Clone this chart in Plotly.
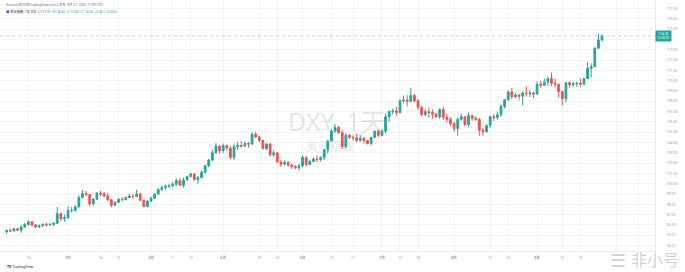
import pandas as pd
import plotly.graph_objects as go

# ---------------- data ----------------
holidays = ["2022-04-15", "2022-07-04"]
calendar = [d.strftime("%Y-%m-%d") for d in pd.bdate_range("2022-02-04", "2022-10-31")
            if d.strftime("%Y-%m-%d") not in holidays]
n_bars = 166
dates = calendar[:n_bars]

opens = [
    95.35,95.45,95.42,95.63,95.50,95.80,96.05,96.30,96.00,95.80,95.95,96.05,96.00,96.05,96.15,97.10,96.60,
    96.70,97.40,97.40,97.75,98.65,99.05,98.95,98.05,98.50,99.10,99.00,98.80,98.45,97.90,98.20,98.50,98.45,98.65,98.80,98.75,99.00,98.40,97.80,
    98.30,98.60,99.00,99.45,99.65,99.75,99.80,99.95,100.30,99.85,100.35,100.70,100.95,100.40,100.60,101.10,101.75,102.30,103.00,103.65,
    103.20,103.70,103.45,102.55,103.60,103.70,103.65,103.90,103.85,104.80,104.55,104.20,103.40,103.85,102.80,103.00,102.10,101.90,102.05,101.80,101.65,101.55,
    101.75,102.55,101.85,102.15,102.40,102.35,102.55,103.30,104.15,105.10,105.45,104.95,103.60,104.70,104.50,104.45,104.20,104.40,104.20,103.90,104.50,105.10,
    104.70,105.10,106.50,107.00,107.05,106.90,108.05,108.10,108.00,108.55,108.05,107.40,106.70,107.00,106.90,106.75,106.50,107.20,106.45,106.25,
    105.85,105.35,106.25,106.50,105.75,106.60,106.35,106.25,105.20,105.05,105.65,106.50,106.45,106.70,107.50,108.15,108.90,108.45,108.60,108.50,108.80,108.75,108.80,
    108.70,109.65,109.55,109.85,110.20,109.75,109.65,108.95,108.25,109.80,109.60,109.70,109.75,109.65,110.20,111.20,111.35,113.15,113.95,
]
highs = [
    95.55,95.65,95.70,95.70,96.00,96.20,96.45,96.40,96.10,96.05,96.15,96.20,96.20,96.30,97.75,97.20,97.00,
    97.80,97.75,97.90,98.90,99.40,99.30,99.00,98.60,99.15,99.30,99.20,99.10,98.50,98.30,98.55,98.70,98.80,99.00,98.95,99.40,99.10,98.45,98.40,
    98.75,99.05,99.55,99.80,99.90,100.00,100.20,100.50,100.55,100.60,100.80,101.05,101.00,100.75,101.30,101.85,102.40,103.30,103.95,103.70,
    103.90,103.80,103.65,103.90,104.05,104.15,104.10,104.05,105.00,105.05,104.65,104.30,103.95,103.95,103.30,103.05,102.30,102.25,102.20,101.95,101.80,101.90,
    102.75,102.65,102.35,102.55,102.75,102.65,103.40,104.25,105.30,105.80,105.60,105.20,104.90,104.80,104.70,104.85,104.75,104.55,104.25,104.55,105.15,105.25,
    105.30,106.80,107.10,107.30,107.45,108.20,108.55,108.60,109.30,108.70,108.20,107.55,107.30,107.40,107.20,106.90,107.30,107.45,106.75,106.45,
    106.00,106.40,106.80,106.55,106.90,106.70,106.55,106.35,105.40,105.75,106.60,106.75,107.00,107.70,108.20,109.05,109.30,108.80,108.70,108.95,109.45,109.05,108.90,
    109.95,110.00,110.20,110.35,110.80,110.20,109.70,109.00,109.85,109.90,109.90,109.90,110.20,110.25,111.80,111.70,113.25,114.55,114.45,
]
lows = [
    95.15,95.30,95.35,95.40,95.20,95.70,95.95,95.85,95.70,95.70,95.80,95.85,95.90,95.90,96.10,96.40,96.30,
    96.60,97.20,97.30,97.70,98.60,98.80,97.80,97.90,98.40,98.80,98.70,98.30,97.70,97.90,98.10,98.30,98.40,98.60,98.50,98.70,98.30,97.70,97.70,
    98.25,98.55,98.90,99.30,99.40,99.60,99.70,99.80,99.75,99.60,100.30,100.60,100.30,100.00,100.50,101.00,101.60,102.20,102.90,102.90,
    102.95,103.20,102.35,102.30,103.30,103.50,103.60,103.50,103.80,104.40,104.05,103.35,103.30,102.65,102.60,102.05,101.65,101.80,101.70,101.45,101.40,101.30,
    101.60,101.65,101.80,102.10,102.10,102.15,102.30,102.90,104.10,105.00,104.85,103.40,103.45,104.35,104.20,104.00,104.05,103.90,103.80,103.70,104.40,104.50,
    104.60,104.90,106.00,106.70,106.60,106.85,107.80,107.50,107.90,107.90,107.20,106.55,106.55,106.40,106.30,106.40,106.30,106.20,105.90,105.60,
    105.05,104.65,106.10,105.60,105.50,106.10,106.10,104.65,104.65,104.95,105.40,106.10,106.20,106.50,107.30,108.00,108.20,108.30,108.10,107.60,108.45,108.40,108.30,
    108.60,109.30,109.50,109.50,109.50,109.35,108.35,107.60,107.90,109.30,109.35,109.40,109.40,109.55,110.15,110.30,111.30,113.10,113.80,
]
closes = [
    95.45,95.42,95.63,95.50,95.80,96.05,96.30,96.00,95.80,95.95,96.05,96.00,96.05,96.15,97.10,96.60,96.70,
    97.40,97.40,97.75,98.65,99.05,98.95,98.05,98.50,99.10,99.00,98.80,98.45,97.90,98.20,98.50,98.45,98.65,98.80,98.75,99.00,98.40,97.80,98.30,
    98.60,99.00,99.45,99.65,99.75,99.80,99.95,100.30,99.85,100.35,100.70,100.95,100.40,100.60,101.10,101.75,102.30,103.00,103.65,103.20,
    103.70,103.45,102.55,103.60,103.70,103.65,103.90,103.85,104.80,104.55,104.20,103.40,103.85,102.80,103.00,102.10,101.90,102.05,101.80,101.65,101.55,101.75,
    102.55,101.85,102.15,102.40,102.35,102.55,103.30,104.15,105.10,105.45,104.95,103.60,104.70,104.50,104.45,104.20,104.40,104.20,103.90,104.50,105.10,104.70,
    105.10,106.50,107.00,107.05,106.90,108.05,108.10,108.00,108.55,108.05,107.40,106.70,107.00,106.90,106.75,106.50,107.20,106.45,106.25,105.85,
    105.35,106.25,106.50,105.75,106.60,106.35,106.25,105.20,105.05,105.65,106.50,106.45,106.70,107.50,108.15,108.90,108.45,108.60,108.50,108.80,108.75,108.80,108.70,
    109.65,109.55,109.85,110.20,109.75,109.65,108.95,108.25,109.80,109.60,109.70,109.75,109.65,110.20,111.20,111.35,113.15,113.95,114.35,
]

tick_dates = ["2022-02-14", "2022-03-01", "2022-03-14", "2022-03-21", "2022-04-01", "2022-04-11",
              "2022-04-19", "2022-05-02", "2022-05-16", "2022-05-23", "2022-06-01", "2022-06-13",
              "2022-06-21", "2022-07-01", "2022-07-11", "2022-07-18", "2022-08-01", "2022-08-15",
              "2022-08-22", "2022-09-01", "2022-09-12", "2022-09-19"]
tick_texts = ["14", "3月", "14", "21", "4月", "11", "19", "5月", "16", "23", "6月", "13",
              "21", "7月", "11", "18", "8月", "15", "22", "9月", "12", "19"]
future_grid_dates = ["2022-10-03", "2022-10-11"]   # gridlines under the watermark, labels hidden
price_ticks = list(range(94, 118))
hidden_price_labels = [114]                       # covered by the last-price box

# ---------------- figure ----------------
UP, DOWN = "#26a69a", "#ef5350"
LABEL = "#9a9da6"
W, H = 685, 272
PLOT_R = 655
PLOT_B = 251
X0_PX, PX_PER_BAR = 6.7, 3.608
Y_TOP, Y_BOT = 117.83, 93.47

xs = list(range(len(dates)))
fig = go.Figure(go.Candlestick(
    x=xs, open=opens, high=highs, low=lows, close=closes,
    increasing=dict(line=dict(color=UP, width=1), fillcolor=UP),
    decreasing=dict(line=dict(color=DOWN, width=1), fillcolor=DOWN),
    whiskerwidth=0, hoverinfo="skip", showlegend=False,
))

tickvals = [calendar.index(d) for d in tick_dates] + [calendar.index(d) for d in future_grid_dates]
ticktext = [(f"<b>{t}</b>" if "月" in t else t) for t in tick_texts] + ["" for _ in future_grid_dates]
fig.update_xaxes(
    range=[-X0_PX / PX_PER_BAR, (PLOT_R - X0_PX) / PX_PER_BAR],
    tickvals=tickvals, ticktext=ticktext, tickfont=dict(size=3.6, color=LABEL),
    showgrid=True, gridcolor="#f1f3f7", gridwidth=1, zeroline=False,
    showline=True, linecolor="#e8eaef", linewidth=1, ticks="", ticklabelstandoff=3,
    rangeslider=dict(visible=False), fixedrange=True,
)
fig.update_yaxes(
    side="right", range=[Y_BOT, Y_TOP],
    tickvals=price_ticks,
    ticktext=["" if v in hidden_price_labels else f"{v:.2f}" for v in price_ticks],
    tickfont=dict(size=3.4, color=LABEL),
    showgrid=True, gridcolor="#f1f3f7", gridwidth=1, zeroline=False,
    showline=True, linecolor="#e8eaef", linewidth=1, ticks="", ticklabelstandoff=10,
)

last = closes[-1]
fig.add_shape(type="line", xref="paper", yref="y", x0=0, x1=1, y0=last, y1=last,
              line=dict(color="#9aa0aa", width=1, dash="dot"), opacity=0.5)

ann = []
ann.append(dict(xref="paper", yref="y", x=1.0, y=last, xanchor="left", yanchor="middle",
                text=f"{last:.2f}<br>12:50:31", showarrow=False, bgcolor=UP, borderpad=1,
                font=dict(size=3.2, color="white")))
ann.append(dict(xref="paper", yref="paper", x=337 / PLOT_R, y=1 - 121 / PLOT_B,
                text="DXY, 1天", showarrow=False, xanchor="center", yanchor="middle",
                font=dict(size=25, color="rgba(120,123,134,0.20)")))
ann.append(dict(xref="paper", yref="paper", x=330 / PLOT_R, y=1 - 146 / PLOT_B,
                text="美元指数", showarrow=False, xanchor="center", yanchor="middle",
                font=dict(size=12, color="rgba(120,123,134,0.20)")))
ann.append(dict(xref="paper", yref="paper", x=4 / PLOT_R, y=1 - 5 / PLOT_B,
                xanchor="left", yanchor="middle", showarrow=False,
                text="Hussain8870在TradingView.com上发布, 9月 27, 2022 11:09 UTC",
                font=dict(size=3.3, color="#6a6d78")))
hdr = ("<span style='color:#2962ff'>■</span> 美元指数, 1D, ICE  "
       f"<span style='color:{UP}'>O{opens[-1]:.2f}  H{highs[-1]:.2f}  L{lows[-1]:.2f}  "
       f"C{closes[-1]:.2f}  +{closes[-1]-closes[-2]:.2f} (+{(closes[-1]/closes[-2]-1)*100:.2f}%)</span>")
ann.append(dict(xref="paper", yref="paper", x=4 / PLOT_R, y=1 - 12 / PLOT_B,
                xanchor="left", yanchor="middle", showarrow=False, text=hdr,
                font=dict(size=3.3, color="#131722")))
ann.append(dict(xref="paper", yref="paper", x=5 / PLOT_R, y=1 - 266 / PLOT_B,
                xanchor="left", yanchor="middle", showarrow=False,
                text="<b>TV</b> TradingView", font=dict(size=3.6, color="#131722")))
ann.append(dict(xref="paper", yref="paper", x=681 / PLOT_R, y=1 - 260 / PLOT_B,
                xanchor="right", yanchor="middle", showarrow=False, text="非小号",
                font=dict(size=16, color="rgba(150,150,150,0.45)")))
ann.append(dict(xref="paper", yref="paper", x=628 / PLOT_R, y=1 - 260 / PLOT_B,
                xanchor="right", yanchor="middle", showarrow=False, text="☰",
                font=dict(size=18, color="rgba(150,150,150,0.45)")))

fig.update_layout(
    width=W, height=H, margin=dict(l=0, r=W - PLOT_R, t=0, b=H - PLOT_B),
    paper_bgcolor="white", plot_bgcolor="white",
    font=dict(family="Noto Sans, Noto Sans CJK SC, sans-serif"),
    annotations=ann, showlegend=False,
)

fig.write_html("out.html")
